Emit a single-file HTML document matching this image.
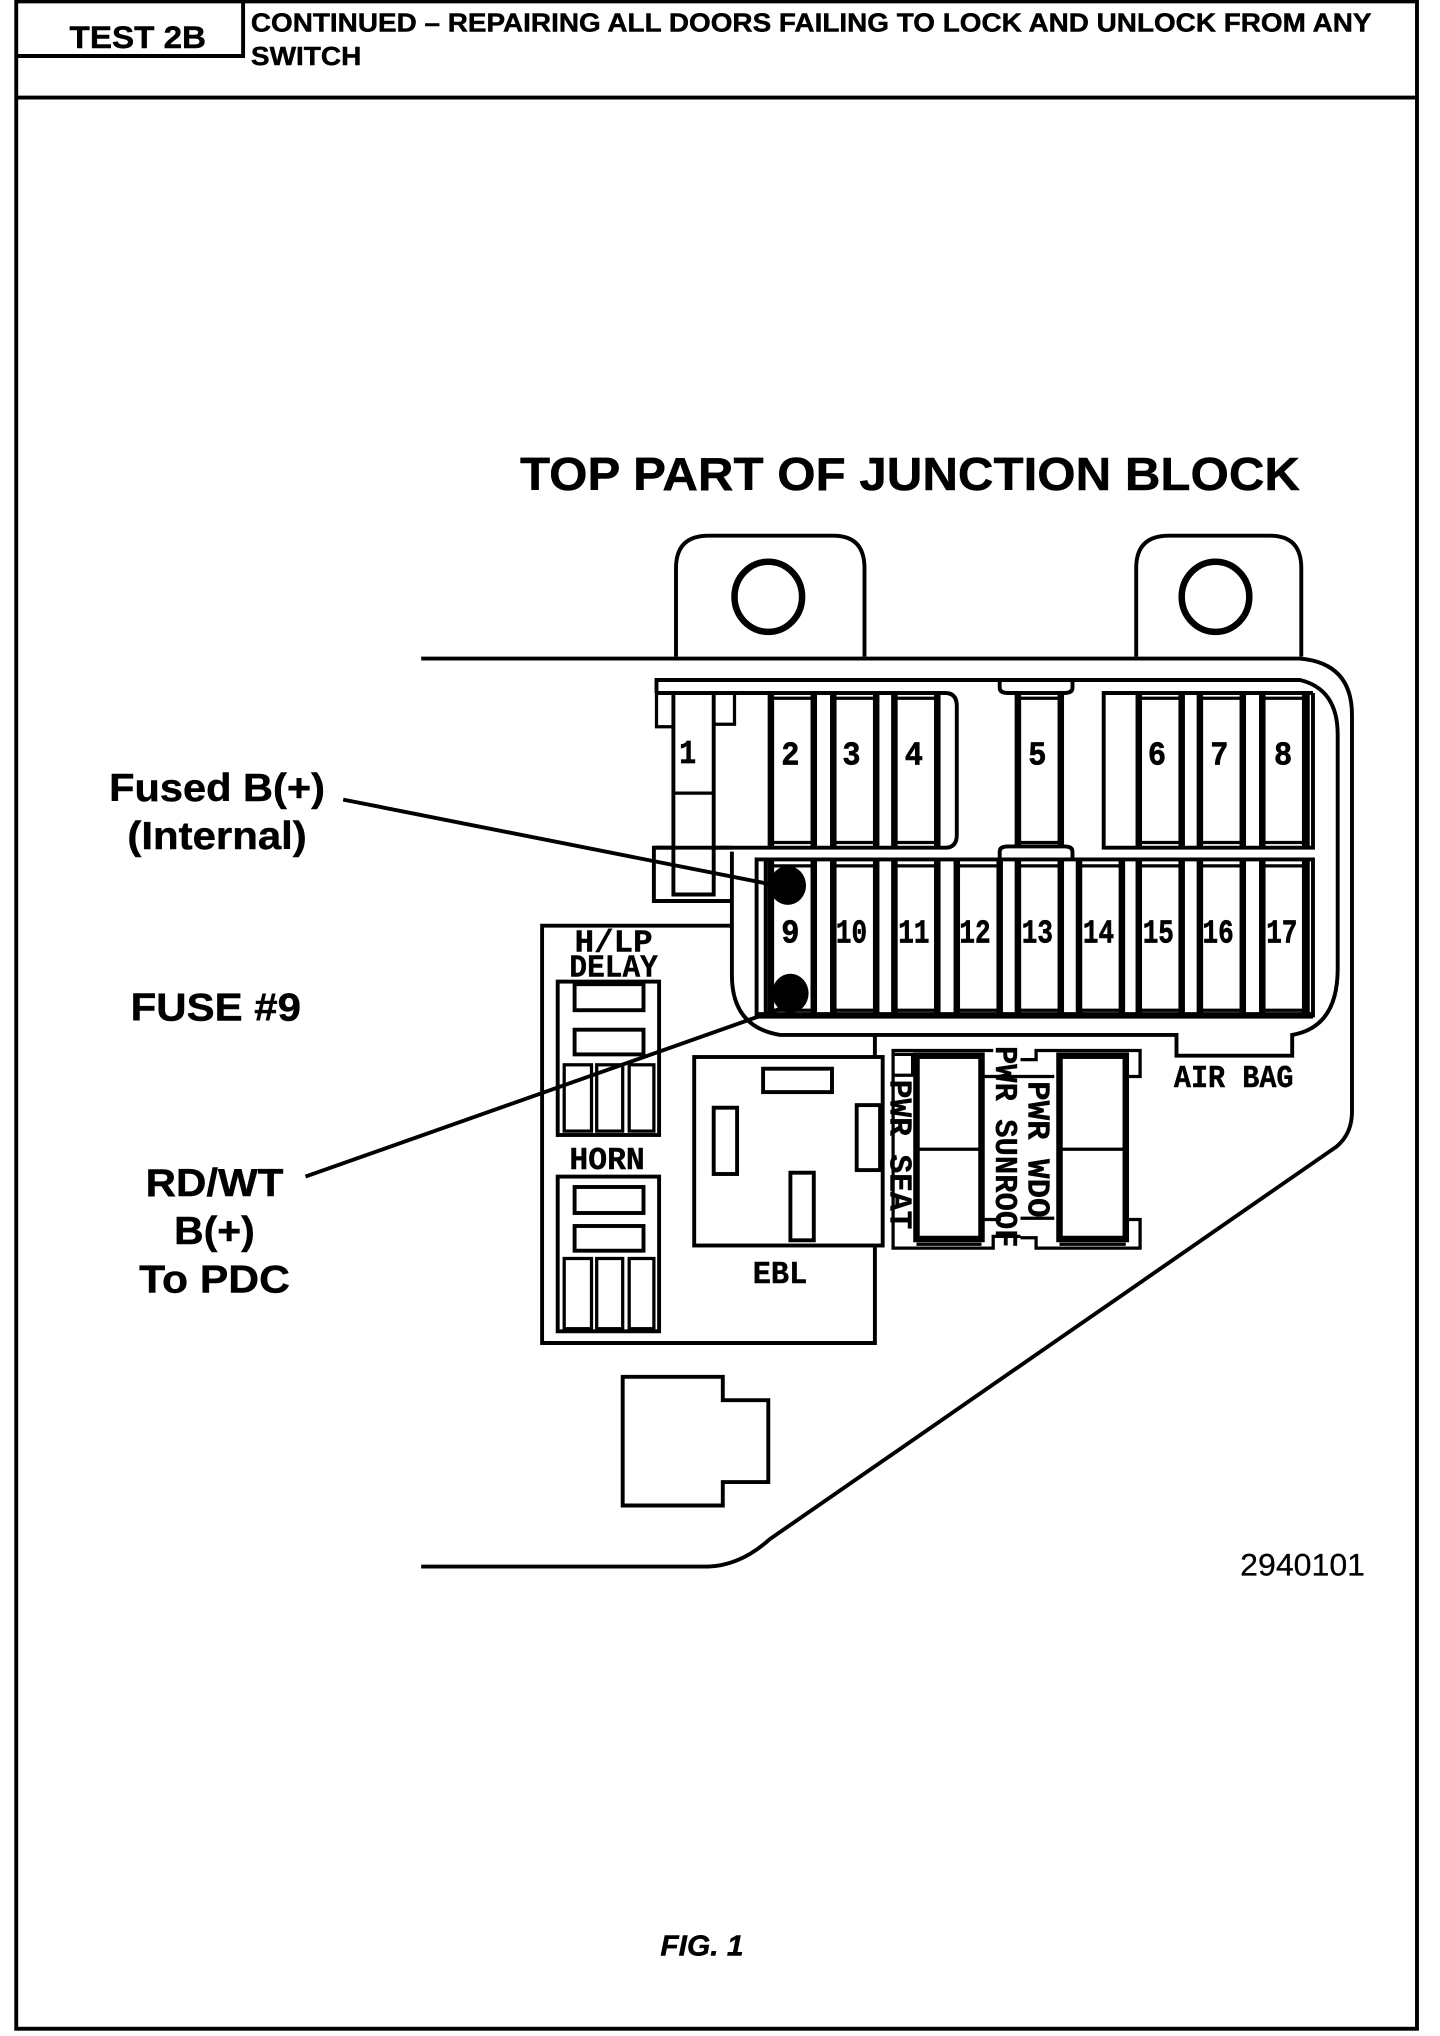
<!DOCTYPE html>
<html><head><meta charset="utf-8"><style>
html,body{margin:0;padding:0;background:#fff;width:1440px;height:2036px;overflow:hidden}
svg{display:block}
text{font-family:"Liberation Sans",sans-serif;font-weight:bold;fill:#000;stroke:#000;stroke-width:.35}
.m{font-family:"Liberation Mono",monospace;font-size:26px;text-anchor:middle;font-weight:bold;stroke-width:.5}
.r{font-family:"Liberation Mono",monospace;font-size:24px;text-anchor:middle;font-weight:bold;stroke-width:.3}
.l{font-size:30px;text-anchor:middle}
.s{fill:none;stroke:#000;stroke-width:3}
.f{fill:none;stroke:#000;stroke-width:5}
.t{fill:none;stroke:#000;stroke-width:2.5}
</style></head><body>
<svg width="1440" height="2036" viewBox="0 0 1107.7 1566" xmlns="http://www.w3.org/2000/svg">
<rect x="12.5" y="1" width="1077.5" height="1559.5" class="s"/>
<path d="M12 75H1090" class="s"/>
<path d="M12 43H187V1" class="s"/>
<text x="106" y="37" font-size="24" text-anchor="middle" textLength="105" lengthAdjust="spacingAndGlyphs">TEST 2B</text>
<text x="193" y="24" font-size="20" textLength="862" lengthAdjust="spacingAndGlyphs">CONTINUED – REPAIRING ALL DOORS FAILING TO LOCK AND UNLOCK FROM ANY</text>
<text x="193" y="50" font-size="20" textLength="85" lengthAdjust="spacingAndGlyphs">SWITCH</text>
<text x="400" y="377" font-size="36" textLength="600" lengthAdjust="spacingAndGlyphs">TOP PART OF JUNCTION BLOCK</text>

<!-- tabs -->
<path d="M520 505V437Q520 412 545 412H641Q665 412 665 437V505" class="s"/>
<path d="M874 505V437Q874 412 899 412H977Q1001 412 1001 437V505" class="s"/>
<ellipse cx="591" cy="459" rx="26" ry="27" class="f"/>
<ellipse cx="935" cy="459" rx="26" ry="27" class="f"/>

<!-- outer body -->
<path d="M324 506.5H1000Q1040 510 1040 550V855Q1040 872 1028 882L592 1184Q570 1204 545 1205H324" class="s"/>
<!-- inner outline -->
<path d="M505 533V523H1000Q1029 530 1029 565V745Q1029 790 994 796V812H905V796H600Q563 790 563 750V655" class="s"/>

<!-- top boxes -->
<path d="M505 533H727Q736 533 736 543V642Q736 652 727 652H503" class="s"/>
<path d="M1010 533H849V652H1010V533M1006 533V652" class="s"/>
<path d="M582 661H1010V781H582ZM1006 661V781M589 661V781" class="s"/>
<path d="M582 781H1010" class="f"/>
<path d="M771 523V529Q771 533 777 533H821Q827 533 827 529V523" class="s" transform="translate(-2 0)"/>
<path d="M771 661V655Q771 651 777 651H821Q827 651 827 655V661" class="s" transform="translate(-2 0)"/>

<!-- fuse 1 and clip -->
<path d="M518 533V688H549V533" class="s"/>
<path d="M518 610H549" class="t"/>
<path d="M505 533V559H518M549 533V557H565V533" class="t"/>
<path d="M518 693H503V652H518M549 652H563" class="s"/>
<path d="M503 693H563" class="s"/>

<!-- fuse bars top row -->
<path d="M593 533V652M626 533V652M641 533V652M674 533V652M688 533V652M721 533V652M783 533V652M816 533V652M876 533V652M909 533V652M923 533V652M956 533V652M971 533V652M1004 533V652" class="f"/>
<path d="M593 537H626M593 648H626M641 537H674M641 648H674M688 537H721M688 648H721M783 537H816M783 648H816M876 537H909M876 648H909M923 537H956M923 648H956M971 537H1004M971 648H1004" class="t"/>
<!-- fuse bars bottom row -->
<path d="M593 661V781M626 661V781M641 661V781M674 661V781M688 661V781M721 661V781M736 661V781M769 661V781M783 661V781M816 661V781M830 661V781M863 661V781M876 661V781M909 661V781M923 661V781M956 661V781M971 661V781M1004 661V781" class="f"/>
<path d="M593 666H626M593 777H626M641 666H674M641 777H674M688 666H721M688 777H721M736 666H769M736 777H769M783 666H816M783 777H816M830 666H863M830 777H863M876 666H909M876 777H909M923 666H956M923 777H956M971 666H1004M971 777H1004" class="t"/>

<text class="m" x="529" y="587" textLength="13" lengthAdjust="spacingAndGlyphs">1</text>
<text class="m" x="608" y="588" textLength="14" lengthAdjust="spacingAndGlyphs">2</text>
<text class="m" x="655" y="588" textLength="14" lengthAdjust="spacingAndGlyphs">3</text>
<text class="m" x="703" y="588" textLength="14" lengthAdjust="spacingAndGlyphs">4</text>
<text class="m" x="798" y="588" textLength="14" lengthAdjust="spacingAndGlyphs">5</text>
<text class="m" x="890" y="588" textLength="14" lengthAdjust="spacingAndGlyphs">6</text>
<text class="m" x="938" y="588" textLength="14" lengthAdjust="spacingAndGlyphs">7</text>
<text class="m" x="987" y="588" textLength="14" lengthAdjust="spacingAndGlyphs">8</text>
<text class="m" x="608" y="725" textLength="14" lengthAdjust="spacingAndGlyphs">9</text>
<text class="m" x="655" y="725" textLength="24" lengthAdjust="spacingAndGlyphs">10</text>
<text class="m" x="703" y="725" textLength="24" lengthAdjust="spacingAndGlyphs">11</text>
<text class="m" x="750" y="725" textLength="24" lengthAdjust="spacingAndGlyphs">12</text>
<text class="m" x="798" y="725" textLength="24" lengthAdjust="spacingAndGlyphs">13</text>
<text class="m" x="845" y="725" textLength="24" lengthAdjust="spacingAndGlyphs">14</text>
<text class="m" x="891" y="725" textLength="24" lengthAdjust="spacingAndGlyphs">15</text>
<text class="m" x="937" y="725" textLength="24" lengthAdjust="spacingAndGlyphs">16</text>
<text class="m" x="986" y="725" textLength="24" lengthAdjust="spacingAndGlyphs">17</text>

<!-- relay panel -->
<path d="M563 712H417V1033H673V959M673 814V796" class="s"/>
<!-- H/LP relay -->
<rect x="429" y="755" width="78" height="118" class="s"/>
<rect x="442" y="757" width="53" height="20" class="s"/>
<rect x="442" y="792" width="53" height="19" class="s"/>
<rect x="434" y="819" width="21" height="51" class="t"/>
<rect x="459" y="819" width="20" height="51" class="t"/>
<rect x="484" y="819" width="19" height="51" class="t"/>
<!-- Horn relay -->
<rect x="429" y="905" width="78" height="119" class="s"/>
<rect x="442" y="913" width="53" height="20" class="s"/>
<rect x="442" y="943" width="53" height="19" class="s"/>
<rect x="434" y="968" width="21" height="54" class="t"/>
<rect x="459" y="968" width="20" height="54" class="t"/>
<rect x="484" y="968" width="19" height="54" class="t"/>
<!-- EBL relay -->
<rect x="534" y="813" width="145" height="145" class="s"/>
<rect x="587" y="822" width="53" height="18" class="s"/>
<rect x="549" y="852" width="18" height="51" class="s"/>
<rect x="659" y="850" width="18" height="50" class="s"/>
<rect x="608" y="902" width="18" height="52" class="s"/>
<!-- large fuses -->
<path d="M764 808H687V960H764V951H785M785 952H797V960H877V938H867M867 828H877V808H797V815H785M756 828H811M756 938H770M785 937H811" class="t"/>
<path d="M688 811H702V827H688" class="t"/>
<path d="M867 810V828" class="t"/>
<rect x="705" y="812" width="50" height="141" class="f"/>
<rect x="815" y="812" width="51" height="141" class="f"/>
<path d="M705 884H755M815 884H866M705 957H755M815 957H866" class="t"/>

<text class="r" transform="translate(472 732)" textLength="60" lengthAdjust="spacingAndGlyphs">H/LP</text>
<text class="r" transform="translate(472 751)" textLength="68" lengthAdjust="spacingAndGlyphs">DELAY</text>
<text class="r" x="467" y="899" textLength="58" lengthAdjust="spacingAndGlyphs">HORN</text>
<text class="r" x="600" y="987" textLength="42" lengthAdjust="spacingAndGlyphs">EBL</text>
<text class="r" x="949" y="836" textLength="92" lengthAdjust="spacingAndGlyphs">AIR BAG</text>
<text class="r" transform="translate(685 888) rotate(90)" textLength="115" lengthAdjust="spacingAndGlyphs">PWR SEAT</text>
<text class="r" transform="translate(766 882) rotate(90)" textLength="155" lengthAdjust="spacingAndGlyphs">PWR SUNROOF</text>
<text class="r" transform="translate(791 884) rotate(90)" textLength="105" lengthAdjust="spacingAndGlyphs">PWR WDO</text>

<!-- connector -->
<path d="M479 1059H556V1077H591V1140H556V1158H479Z" class="s"/>

<!-- callouts -->
<ellipse cx="606" cy="681" rx="14" ry="15" fill="#000"/>
<ellipse cx="608" cy="764" rx="14" ry="15" fill="#000"/>
<path d="M264 615L592 680" class="s"/>
<path d="M235 905L600 776" class="s"/>

<text class="l" x="167" y="616" textLength="166" lengthAdjust="spacingAndGlyphs">Fused B(+)</text>
<text class="l" x="167" y="653" textLength="138" lengthAdjust="spacingAndGlyphs">(Internal)</text>
<text class="l" x="166" y="785" textLength="131" lengthAdjust="spacingAndGlyphs">FUSE #9</text>
<text class="l" x="165" y="920" textLength="106" lengthAdjust="spacingAndGlyphs">RD/WT</text>
<text class="l" x="165" y="957" textLength="62" lengthAdjust="spacingAndGlyphs">B(+)</text>
<text class="l" x="165" y="994" textLength="116" lengthAdjust="spacingAndGlyphs">To PDC</text>
<text x="954" y="1212" font-size="24" style="font-weight:normal;stroke-width:.2" textLength="96" lengthAdjust="spacingAndGlyphs">2940101</text>
<text x="508" y="1504" font-size="22" font-style="italic" textLength="64" lengthAdjust="spacingAndGlyphs">FIG. 1</text>
</svg>
</body></html>
